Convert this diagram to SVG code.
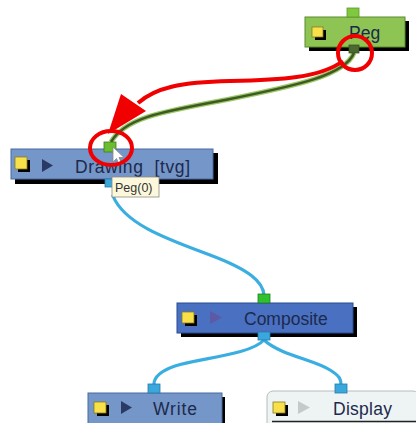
<svg xmlns="http://www.w3.org/2000/svg" width="416" height="423" viewBox="0 0 416 423">
<defs>
<style>
.lbl{font-family:"Liberation Sans",Arial,sans-serif;font-size:17.5px;fill:#1c2a4c}
.shadow{fill:#000}
.yel{fill:#f7e04a;stroke:#8a7a20;stroke-width:0.8}
.blue{fill:#7596c8;stroke:#4a6aa0;stroke-width:1}
.bport{fill:#3aa8dc;stroke:#2a78a8;stroke-width:0.8}
.gport{fill:#30c030;stroke:#208020;stroke-width:0.8}
.wire{fill:none;stroke:#3aaee0;stroke-width:3.2;stroke-linecap:round}
.red{fill:none;stroke:#f00000;stroke-width:4}
</style>
</defs>
<rect width="416" height="423" fill="#fff"/>

<g id="connectors">
  <path d="M113,196 C125,225 170,240 210,255 C250,270 263,282 264,295" class="wire"/>
  <path d="M264,340 C250,355 200,358 175,366 C158,372 154,378 154,384" class="wire"/>
  <path d="M264,340 C280,355 315,360 330,370 C340,376 341,380 341,384" class="wire"/>
  <path d="M354,53 C345,75 300,85 225,100 C160,112 125,118 111,142" fill="none" stroke="#9cc868" stroke-width="5"/>
  <path d="M354,53 C345,75 300,85 225,100 C160,112 125,118 111,142" fill="none" stroke="#3e5a22" stroke-width="2.6"/>
</g>

<g id="node-peg">
  <rect x="309" y="21" width="100" height="30" class="shadow"/>
  <rect x="305" y="17" width="100" height="30" fill="#8dc453" stroke="#5c8a30"/>
  <rect x="347" y="8" width="12" height="9" fill="#80c840" stroke="#5a9a28" stroke-width="0.8"/>
  <rect x="315" y="30" width="11" height="10" class="shadow"/>
  <rect x="312" y="27" width="11" height="10" class="yel"/>
  <text x="349" y="39" class="lbl" fill="#333">Peg</text>
  <rect x="349" y="45" width="10" height="8" fill="#4a6a30" stroke="#3a5020" stroke-width="0.8"/>
</g>

<g id="node-drawing">
  <rect x="15" y="153" width="203" height="31" class="shadow"/>
  <rect x="11" y="149" width="202" height="30" class="blue"/>
  <rect x="18" y="160" width="12" height="12" class="shadow"/>
  <rect x="15" y="157" width="12" height="12" class="yel"/>
  <polygon points="42,159 42,172 53,165.5" fill="#2a3a64"/>
  <text x="75" y="173" class="lbl" xml:space="preserve" textLength="115" lengthAdjust="spacing">Drawing  [tvg]</text>
  <rect x="104" y="142" width="12" height="10" fill="#6cbc30" stroke="#3e7a20" stroke-width="0.8"/>
  <rect x="105" y="179" width="9" height="8" class="bport"/>
</g>

<g id="tooltip">
  <rect x="112" y="177" width="47" height="20" fill="#fdf8dc" stroke="#8a8a80" stroke-width="0.8"/>
  <text x="115" y="192" font-family="Liberation Sans,Arial,sans-serif" font-size="12.5" fill="#333">Peg(0)</text>
</g>

<g id="cursor">
  <polygon points="113,147 113,162 116.5,158.5 119.5,165 122,164 119,157.5 124,157.5" fill="#fff" stroke="#888" stroke-width="0.8"/>
</g>

<g id="node-composite">
  <rect x="181" y="307" width="176" height="30" class="shadow"/>
  <rect x="177" y="303" width="176" height="30" fill="#4a70c2" stroke="#2a4a90"/>
  <rect x="185" y="315" width="12" height="11" class="shadow"/>
  <rect x="182" y="312" width="12" height="11" class="yel"/>
  <polygon points="210,311 210,324 222,317.5" fill="#5c5aa4"/>
  <text x="244" y="325" class="lbl">Composite</text>
  <rect x="258" y="294" width="12" height="9" class="gport"/>
  <rect x="258" y="332" width="12" height="8" class="bport"/>
</g>

<g id="node-write">
  <rect x="92" y="397" width="133" height="35" class="shadow"/>
  <rect x="88" y="393" width="134" height="35" class="blue"/>
  <rect x="97" y="405" width="12" height="11" class="shadow"/>
  <rect x="94" y="402" width="12" height="11" class="yel"/>
  <polygon points="121,401 121,414 132,407.5" fill="#2a3a64"/>
  <text x="153" y="415" class="lbl" textLength="44" lengthAdjust="spacing">Write</text>
  <rect x="148" y="384" width="12" height="9" class="bport"/>
</g>

<g id="node-display">
  <rect x="267" y="391" width="152" height="40" rx="6" fill="#eef4f4" stroke="#b4bcbc"/>
  <line x1="272" y1="421.5" x2="416" y2="421.5" stroke="#222" stroke-width="1.5"/>
  <rect x="276" y="405" width="12" height="11" class="shadow"/>
  <rect x="273" y="402" width="12" height="11" class="yel"/>
  <polygon points="298,401 298,414 310,407.5" fill="#c4caca"/>
  <text x="333" y="415" class="lbl" fill="#2a2a3a" textLength="59" lengthAdjust="spacing">Display</text>
  <rect x="335" y="384" width="12" height="9" class="bport"/>
</g>

<g id="annotation">
  <circle cx="355" cy="53" r="17" class="red"/>
  <ellipse cx="111" cy="148" rx="21" ry="17" class="red"/>
  <path d="M343,61 C320,78 280,80 230,81 C180,82 155,88 138,103" class="red"/>
  <polygon points="121,94 146,111 108,134" fill="#f00000"/>
</g>
</svg>
